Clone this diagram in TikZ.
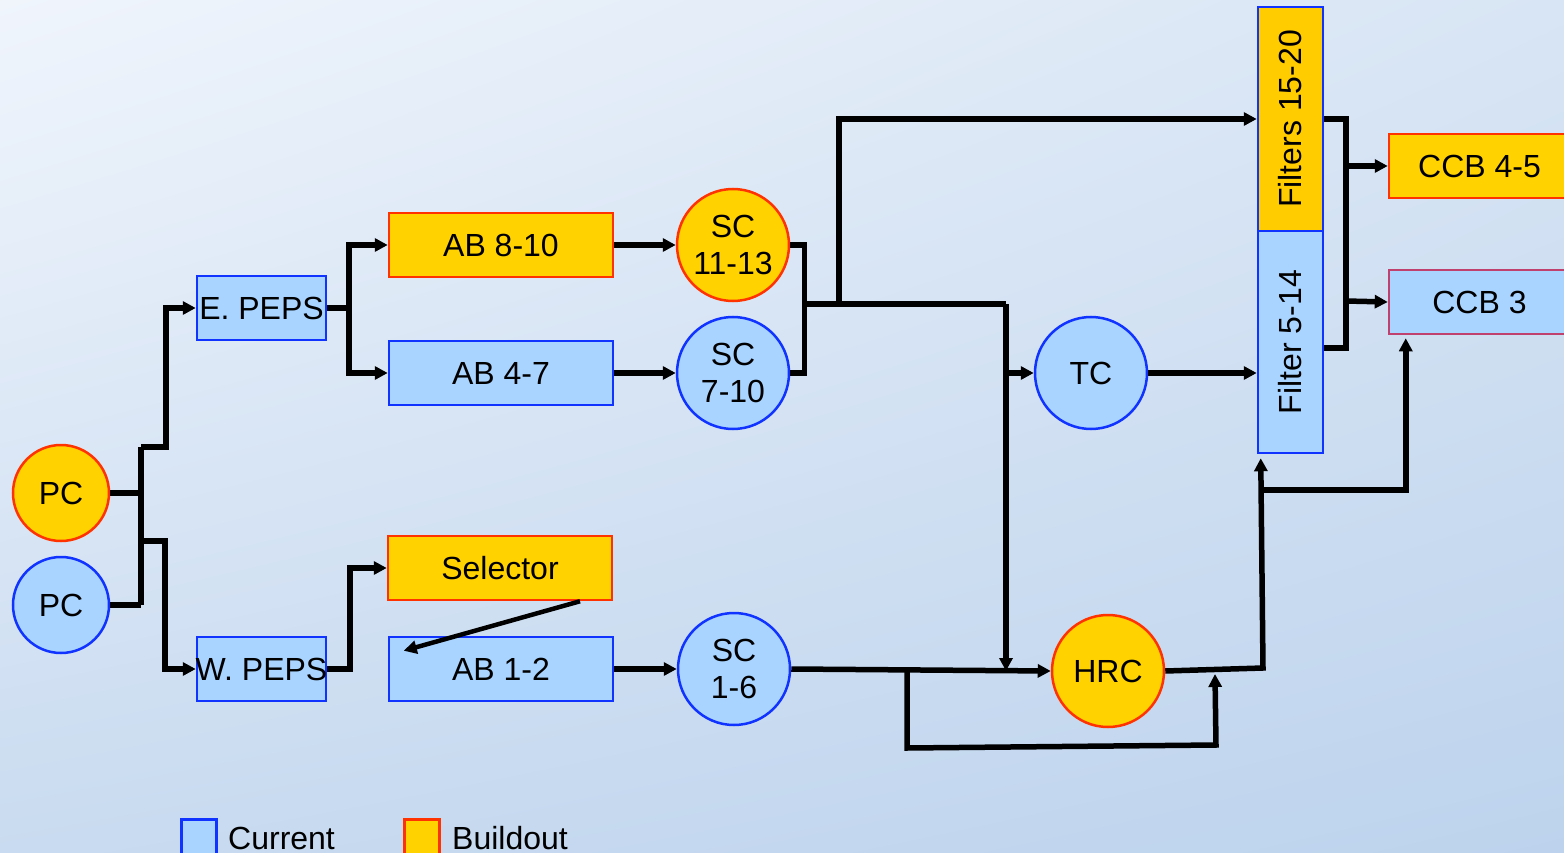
\documentclass[tikz,border=0pt]{standalone}
\usepackage{fontspec}
\setmainfont{Liberation Sans}
\usetikzlibrary{arrows.meta,calc,shadings}
\definecolor{yel}{HTML}{FFD200}
\definecolor{yeltwo}{HTML}{FFCC00}
\definecolor{redb}{HTML}{FF3300}
\definecolor{blu}{HTML}{A9D4FF}
\definecolor{blub}{HTML}{1133FF}
\definecolor{pinkb}{HTML}{C0406E}
\definecolor{bgul}{HTML}{F0F5FC}
\definecolor{bgur}{HTML}{D8E5F4}
\definecolor{bgll}{HTML}{C9DBF0}
\definecolor{bglr}{HTML}{BDD3ED}
\newcommand{\pepslabel}[1]{\makebox[129pt][c]{#1}}
\begin{document}
\begin{tikzpicture}[x=1pt,y=-1pt,
  every node/.style={font=\fontsize{32}{37}\selectfont, text=black, inner sep=0pt},
  cur/.style={fill=blu, draw=blub, line width=2.5pt},
  bld/.style={fill=yel, draw=redb, line width=2.5pt},
  rbox/.style={rectangle, minimum width=224pt, minimum height=64pt},
  pbox/.style={rectangle, minimum width=129pt, minimum height=64pt},
  circ/.style={circle, minimum size=112pt, align=center},
  pcirc/.style={circle, minimum size=96pt},
  fbox/.style={rectangle, rotate=90, minimum height=65pt},
  wire/.style={line width=5.5pt},
  arr/.style={wire, -{Triangle[length=13pt,width=13pt]}}
]
\useasboundingbox (0,0) rectangle (1564,853);
\shade[upper left=bgul, upper right=bgur, lower left=bgll, lower right=bglr]
  (0,0) rectangle (1564,853);
\begin{scope}
\clip (0,0) rectangle (1564,853);
% nodes
\node[pcirc, bld] (pc1) at (61,493) {PC};
\node[pcirc, cur] (pc2) at (61,605) {PC};
\node[pbox, cur] (epeps) at (261.5,308) {\pepslabel{E. PEPS}};
\node[pbox, cur] (wpeps) at (261.5,669) {\pepslabel{W. PEPS}};
\node[rbox, bld] (ab810) at (501,245) {AB 8-10};
\node[rbox, cur] (ab47) at (501,373) {AB 4-7};
\node[rbox, bld] (sel) at (500,568) {Selector};
\node[rbox, cur] (ab12) at (501,669) {AB 1-2};
\node[circ, bld] (sc1113) at (733,245) {SC\\11-13};
\node[circ, cur] (sc710) at (733,373) {SC\\7-10};
\node[circ, cur] (sc16) at (734,669) {SC\\1-6};
\node[circ, cur] (tc) at (1091,373) {TC};
\node[circ, bld] (hrc) at (1108,671) {HRC};
\node[fbox, fill=yeltwo, draw=blub, line width=2.5pt, minimum width=224pt] (f1520) at (1290.5,119) {Filters 15-20};
\node[fbox, cur, minimum width=222pt] (f514) at (1290.5,342) {Filter 5-14};
\node[rectangle, bld, minimum width=181pt, minimum height=64pt] (ccb45) at (1479.5,166) {CCB 4-5};
\node[rectangle, fill=blu, draw=pinkb, line width=2.5pt, minimum width=181pt, minimum height=64pt] (ccb3) at (1479.5,302) {CCB 3};
% legend
\node[cur, rectangle, minimum size=35pt, anchor=north west] (lgc) at (180,818) {};
\node[anchor=base west] (lgct) at (228,849) {Current};
\node[bld, rectangle, minimum size=35pt, anchor=north west] (lgb) at (403,818) {};
\node[anchor=base west] (lgbt) at (452,849) {Buildout};
% coordinates
\coordinate (busT) at (141,447);
\coordinate (busM) at (141,541);
\coordinate (busB) at (141,605);
\coordinate (e1) at (166,447);
\coordinate (w1) at (165,541);
\coordinate (ej) at (349,308);
\coordinate (wj) at (350,669);
\coordinate (sj) at (803,304);
\coordinate (fj) at (839,304);
\coordinate (hj) at (1006,304);
\coordinate (by1) at (907,671);
\coordinate (by2) at (907,748);
\coordinate (by3) at (1216,745);
\coordinate (by4) at (1215,674);
\coordinate (ho) at (1263,668);
\coordinate (cj) at (1263,490);
\coordinate (rj2) at (1346,348);
\coordinate (rj3) at (1346,166);
\coordinate (rj4) at (1346,301);
% connectors
\draw[wire] (busT) -- (busB);
\draw[wire] (pc1.east) -- (pc1.east -| busT);
\draw[wire] (pc2.east) -- (pc2.east -| busT);
\draw[arr] (busT) -- (e1) |- (epeps.west);
\draw[arr] (busM) -- (w1) |- (wpeps.west);
\draw[wire] (epeps.east) -- (ej);
\draw[arr] (ej) |- (ab810.west);
\draw[arr] (ej) |- (ab47.west);
\draw[arr] (wpeps.east) -- (wj) |- (sel.west);
\draw[arr, line width=4.5pt] ($(sel.south)+(80,0)$) -- ($(ab12.north west)+(16,15)$);
\draw[arr] (ab810.east) -- (sc1113.west);
\draw[arr] (ab47.east) -- (sc710.west);
\draw[arr] (ab12.east) -- (sc16.west);
\draw[wire] (sc1113.east) -- ++(14,0) |- (sc710.east);
\draw[wire] (sj) -- (hj);
\draw[arr] (fj) |- (f1520.north);
\draw[arr] (hj) -- (hj |- hrc.west);
\draw[arr] (hj |- tc.west) -- (tc.west);
\draw[arr] (tc.east) -- (tc.east -| f514.north);
\draw[arr] (sc16.east) -- (hrc.west);
\draw[arr] (by1) -- (by2) -- (by3) -- (by4);
\draw[arr] (hrc.east) -- (ho) -- ($(f514.north west)+(4,4)$);
\draw[arr] (cj) -| ($(ccb3.south west)+(18,3)$);
\draw[wire] (f1520.south) -| (rj2) -- (rj2 -| f514.south);
\draw[arr] (rj3) -- (ccb45.west);
\draw[arr] (rj4) -- (ccb3.west);
\end{scope}
\end{tikzpicture}
\end{document}
